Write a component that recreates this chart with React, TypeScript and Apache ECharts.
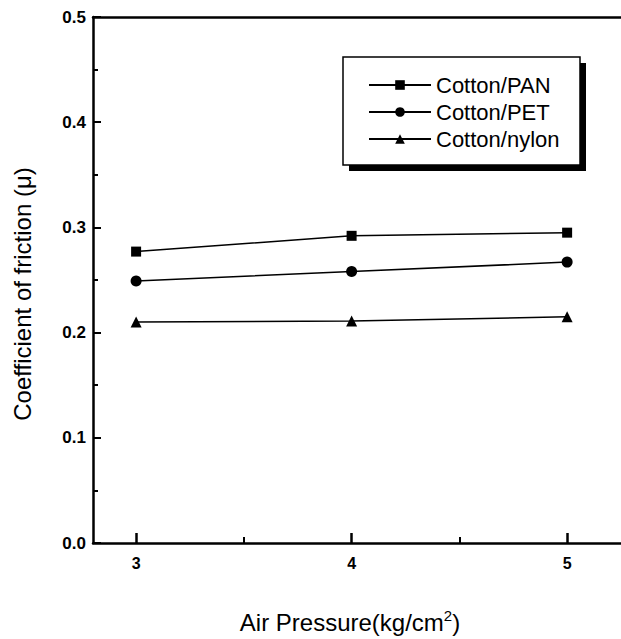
import React, { useEffect, useRef } from "react";
import * as echarts from "echarts";

const xValues = [3, 4, 5];
const panValues = [0.277, 0.292, 0.295];
const petValues = [0.249, 0.258, 0.267];
const nylonValues = [0.21, 0.211, 0.215];
const seriesNames = ["Cotton/PAN", "Cotton/PET", "Cotton/nylon"];
const xLabelValues = [3, 4, 5];
const xMinorTickValues = [3.5, 4.5];

const FONT = "Liberation Sans, Arial, sans-serif";

export default function App() {
  const ref = useRef<HTMLDivElement>(null);
  useEffect(() => {
    if (!ref.current) return;
    const chart = echarts.init(ref.current, null, { renderer: "svg" });
    const toPairs = (vals: number[]) => xValues.map((x, i) => [x, vals[i]]);
    const lineSeries = (name: string, vals: number[], symbol: string, size: number) => ({
      name,
      type: "line",
      data: toPairs(vals),
      symbol,
      symbolSize: size,
      showSymbol: true,
      itemStyle: { color: "#000" },
      lineStyle: { color: "#000", width: 1.5 },
      xAxisIndex: 0,
      yAxisIndex: 0,
      z: 5,
    });
    const xCommon = { type: "value", min: 2.8, max: 5.25, splitLine: { show: false } };
    chart.setOption({
      animation: false,
      backgroundColor: "#fff",
      textStyle: { fontFamily: FONT, color: "#000" },
      grid: { left: 93, right: 0, top: 17, bottom: 96, containLabel: false },
      xAxis: [
        {
          ...xCommon,
          position: "bottom",
          axisLine: { show: true, lineStyle: { color: "#000", width: 2.5 } },
          axisTick: { show: false },
          axisLabel: {
            show: true,
            customValues: xLabelValues,
            margin: 12,
            color: "#000",
            fontSize: 16,
            fontWeight: "bold",
            fontFamily: FONT,
          },
          name: "Air Pressure(kg/cm{sup|2})",
          nameLocation: "middle",
          nameGap: 65,
          nameTextStyle: {
            color: "#000",
            fontSize: 24,
            fontFamily: FONT,
            padding: [0, 14, 0, 0],
            rich: { sup: { fontSize: 15, fontFamily: FONT, color: "#000", padding: [0, 0, 13, 0] } },
          },
        },
        {
          ...xCommon,
          position: "bottom",
          axisLine: { show: false },
          axisTick: { show: true, inside: true, length: 10, customValues: xLabelValues, lineStyle: { color: "#000", width: 2.5 } },
          axisLabel: { show: false },
        },
        {
          ...xCommon,
          position: "bottom",
          axisLine: { show: false },
          axisTick: { show: true, inside: true, length: 6, customValues: xMinorTickValues, lineStyle: { color: "#000", width: 2 } },
          axisLabel: { show: false },
        },
        {
          ...xCommon,
          position: "top",
          axisLine: { show: true, lineStyle: { color: "#000", width: 2.5 } },
          axisTick: { show: false },
          axisLabel: { show: false },
        },
      ],
      yAxis: [
        {
          type: "value",
          min: 0,
          max: 0.5,
          interval: 0.1,
          splitLine: { show: false },
          axisLine: { show: true, lineStyle: { color: "#000", width: 2.5 } },
          axisTick: { show: true, inside: true, length: 8, lineStyle: { color: "#000", width: 2 } },
          minorTick: { show: true, splitNumber: 2, length: 5, lineStyle: { color: "#000", width: 2 } },
          axisLabel: {
            margin: 7,
            color: "#000",
            fontSize: 17,
            fontWeight: "bold",
            fontFamily: FONT,
            formatter: (v: number) => v.toFixed(1),
          },
        },
      ],
      legend: {
        orient: "vertical",
        left: 368,
        top: 73,
        padding: 0,
        itemWidth: 62,
        itemHeight: 12,
        itemGap: 3,
        z: 10,
        data: seriesNames,
        textStyle: { fontSize: 22, lineHeight: 24, color: "#000", fontFamily: FONT },
      },
      graphic: [
        {
          type: "rect",
          shape: { x: 349, y: 63, width: 237, height: 108 },
          style: { fill: "#000" },
          z: 1,
        },
        {
          type: "rect",
          shape: { x: 343, y: 57, width: 237, height: 108 },
          style: { fill: "#fff", stroke: "#000", lineWidth: 1.5 },
          z: 2,
        },
        {
          type: "text",
          x: 22,
          y: 294,
          rotation: Math.PI / 2,
          style: {
            text: "Coefficient of friction (μ)",
            font: `24px ${FONT}`,
            fill: "#000",
            align: "center",
            verticalAlign: "middle",
          },
          z: 3,
        },
      ],
      series: [
        lineSeries(seriesNames[0], panValues, "rect", 10),
        lineSeries(seriesNames[1], petValues, "circle", 11),
        lineSeries(seriesNames[2], nylonValues, "triangle", 11),
      ],
    });
    return () => chart.dispose();
  }, []);
  return <div ref={ref} style={{ position: "absolute", left: 0, top: 0, width: 621, height: 639 }} />;
}
